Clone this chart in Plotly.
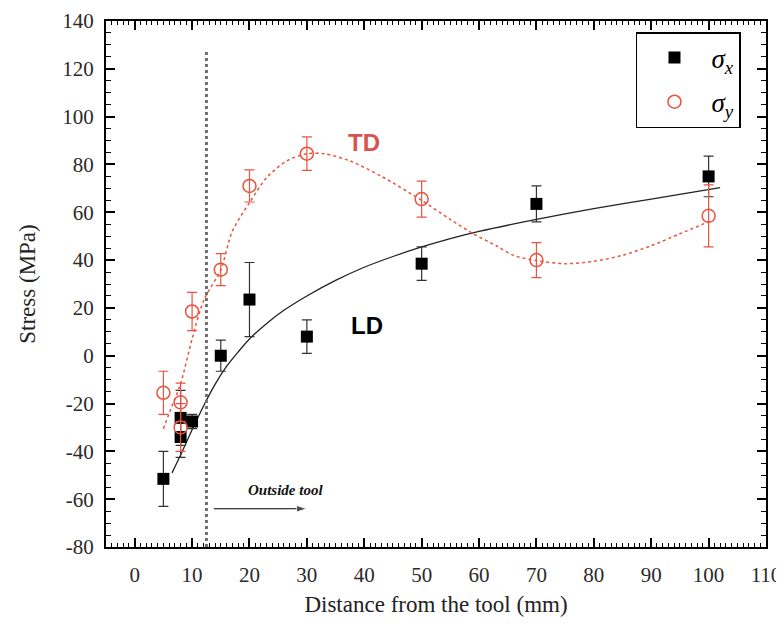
import plotly.graph_objects as go

# ---- data ----
dist_x = [5, 8, 8, 10, 15, 20, 30, 50, 70, 100]
sigma_x = [-51.5, -26, -34, -27.5, 0, 23.5, 8, 38.5, 63.5, 75]
sigma_x_err = [11.5, 11.5, 8.5, 3, 6.5, 15.5, 7, 7, 7.5, 8.5]

dist_y = [5, 8, 8, 10, 15, 20, 30, 50, 70, 100]
sigma_y = [-15.5, -19.5, -30, 18.5, 36, 71, 84.5, 65.5, 40, 58.5]
sigma_y_err = [9, 8, 10, 8, 6.7, 6.7, 7, 7.5, 7.3, 13]

# fitted trend curves
ld_fit_x = [6.5, 8, 10, 12, 14, 16, 18, 20, 23, 26, 30, 35, 40, 45, 50, 55, 60, 70, 80, 90, 102]
ld_fit_y = [-49, -41.5, -31, -21, -12, -4.5, 1.5, 7, 13.5, 19, 25, 31.5, 37, 41.5, 45.5, 49, 52, 57, 61.5, 65.5, 70.3]

td_fit_x = [5, 6.5, 8, 10, 12, 15, 17, 20, 23, 26.5, 30, 33, 37.5, 43, 50, 55, 59, 63, 66, 70, 75, 80, 85, 90, 95, 100.5]
td_fit_y = [-30.5, -21, -11.7, 7, 23, 36, 52, 64, 74.5, 81.5, 84.5, 84.5, 81.5, 75, 65, 57, 51, 46, 42, 39.8, 38.5, 39.5, 42, 46, 51, 56.5]

tool_edge = 12.5
outside_arrow_x = [13.8, 30]
outside_arrow_y = [-64, -64]
x_ticks = [0, 10, 20, 30, 40, 50, 60, 70, 80, 90, 100, 110]
x_tick_labels = ["0", "10", "20", "30", "40", "50", "60", "70", "80", "90", "100", "110"]
y_ticks = [-80, -60, -40, -20, 0, 20, 40, 60, 80, 100, 120, 140]
y_tick_labels = ["-80", "-60", "-40", "-20", "0", "20", "40", "60", "80", "100", "120", "140"]

RED = "#E8543F"
TD_RED = "#D9534F"
SERIF = "Liberation Serif, Times New Roman, serif"
SANS = "Liberation Sans, Arial, sans-serif"

fig = go.Figure()

fig.add_trace(go.Scatter(
    x=ld_fit_x, y=ld_fit_y, mode="lines", line=dict(color="#222222", width=1.3, shape="spline", smoothing=0.8),
    showlegend=False, hoverinfo="skip"))
fig.add_trace(go.Scatter(
    x=td_fit_x, y=td_fit_y, mode="lines", line=dict(color=RED, width=1.5, dash="dot", shape="spline", smoothing=0.8),
    showlegend=False, hoverinfo="skip"))

fig.add_trace(go.Scatter(
    x=dist_x, y=sigma_x, mode="markers", name="<i>σ<sub>x</sub></i>", legendgroup="a",
    marker=dict(symbol="square", size=12, color="black"),
    error_y=dict(type="data", array=sigma_x_err, color="#333333", thickness=1.2, width=5)))
fig.add_trace(go.Scatter(
    x=dist_y, y=sigma_y, mode="markers", name="<i>σ<sub>y</sub></i>", legendgroup="b",
    marker=dict(symbol="circle-open", size=13, color=RED, line=dict(width=1.5, color=RED)),
    error_y=dict(type="data", array=sigma_y_err, color=RED, thickness=1.2, width=5)))

# "Outside tool" arrow
fig.add_trace(go.Scatter(
    x=outside_arrow_x, y=outside_arrow_y, mode="lines+markers",
    line=dict(color="black", width=1.2),
    marker=dict(symbol="arrow", angleref="previous", size=[0, 11], color="black"),
    showlegend=False, hoverinfo="skip"))

fig.add_shape(type="line", x0=tool_edge, x1=tool_edge, y0=-80, y1=128, xref="x", yref="y",
              line=dict(color="#6e6e6e", width=3, dash="dot"))

fig.add_annotation(x=26.3, y=-56, xref="x", yref="y", showarrow=False,
                   text="<b><i>Outside tool</i></b>", font=dict(family=SERIF, size=15, color="#111111"))
fig.add_annotation(x=40, y=89, xref="x", yref="y", showarrow=False,
                   text="<b>TD</b>", font=dict(family=SANS, size=24, color=TD_RED))
fig.add_annotation(x=40.5, y=12.5, xref="x", yref="y", showarrow=False,
                   text="<b>LD</b>", font=dict(family=SANS, size=24, color="black"))

axis_common = dict(
    showline=True, linecolor="black", linewidth=2, mirror="allticks",
    ticks="inside", ticklen=9, tickwidth=1.5, tickcolor="black",
    showgrid=False, zeroline=False, automargin=False,
    tickfont=dict(family=SERIF, size=21, color="#2a2a2a"),
)

fig.update_xaxes(**axis_common, range=[-5, 110], tickvals=x_ticks, ticktext=x_tick_labels,
                 minor=dict(dtick=1, ticks="inside", ticklen=4, tickwidth=1, tickcolor="black"),
                 ticklabelstandoff=8,
                 title=dict(text="Distance from the tool (mm)", font=dict(family=SERIF, size=23, color="#222222"), standoff=10))
fig.update_yaxes(**axis_common, range=[-80, 140], tickvals=y_ticks, ticktext=y_tick_labels,
                 minor=dict(dtick=5, ticks="inside", ticklen=5, tickwidth=1, tickcolor="black"),
                 ticklabelstandoff=6,
                 title=dict(text="Stress (MPa)", font=dict(family=SERIF, size=23, color="#222222"), standoff=20))

# the page adds an 8 px body margin, so the figure is sized to fit inside it
fig.update_layout(
    width=776, height=620,
    margin=dict(l=98, r=18, t=13, b=81),
    plot_bgcolor="white", paper_bgcolor="white",
    legend=dict(x=0.803, y=0.979, xanchor="left", yanchor="top",
                bordercolor="black", borderwidth=1.5, bgcolor="white",
                font=dict(family=SERIF, size=27, color="black"),
                itemwidth=64, tracegroupgap=6),
)

fig.write_html("out.html")
